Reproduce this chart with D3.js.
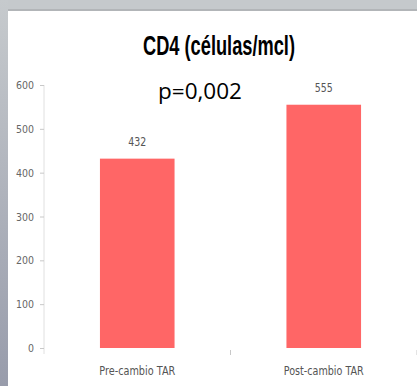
<!DOCTYPE html>
<html>
<head>
<meta charset="utf-8">
<script src="https://cdn.jsdelivr.net/npm/d3@7"></script>
<style>
  body { margin: 0; background: #ffffff; }
  svg { display: block; }
</style>
</head>
<body>
<div id="main"></div>
<script>
var categories = ["Pre-cambio TAR", "Post-cambio TAR"];
var values = [432, 555];
var yTicks = [0, 100, 200, 300, 400, 500, 600];
var title = "CD4 (células/mcl)";
var note = "p=0,002";

var ctx = {
    w: 417,
    h: 386,
    margin: { top: 85, right: 0, bottom: 38, left: 44 }
};
var narrow = "'DejaVu Sans', sans-serif";

var svg = d3.select("#main").append("svg")
    .attr("width", ctx.w)
    .attr("height", ctx.h);

// slide frame: grey strips on top and left
var grad = svg.append("defs").append("linearGradient")
    .attr("id", "leftgrad")
    .attr("x1", 0).attr("y1", 0).attr("x2", 0).attr("y2", 1);
grad.append("stop").attr("offset", "0%").attr("stop-color", "#c6cacd");
grad.append("stop").attr("offset", "100%").attr("stop-color", "#989cab");

svg.append("rect").attr("x", 0).attr("y", 0).attr("width", ctx.w).attr("height", ctx.h).attr("fill", "#ffffff");
svg.append("rect").attr("x", 0).attr("y", 0).attr("width", ctx.w).attr("height", 10).attr("fill", "#c5c9cc");
svg.append("rect").attr("x", 8).attr("y", 9).attr("width", ctx.w - 8).attr("height", 2).attr("fill", "#b2b5b8");
svg.append("rect").attr("x", 0).attr("y", 0).attr("width", 8).attr("height", ctx.h).attr("fill", "url(#leftgrad)");

var height = 348 - ctx.margin.top;

var g = svg.append("g")
    .attr("transform", "translate(" + ctx.margin.left + "," + ctx.margin.top + ")");

var x = d3.scaleBand()
    .domain(categories)
    .range([0, 373])
    .paddingInner(0.6)
    .paddingOuter(0.3);

var y = d3.scaleLinear()
    .domain([0, 600])
    .range([height, 0]);

// y axis
var yAxis = g.append("g")
    .call(d3.axisLeft(y).tickValues(yTicks).tickSize(4).tickPadding(6));
yAxis.select(".domain").attr("stroke", "#e0e0e0").attr("d", "M0," + y(600) + "V" + (height + 6));
yAxis.selectAll(".tick line").attr("stroke", "#c8c8c8");
yAxis.selectAll("text")
    .attr("fill", "#666666")
    .attr("textLength", function (d) { return d === 0 ? 6 : 18; })
    .attr("lengthAdjust", "spacingAndGlyphs")
    .style("font-family", narrow)
    .style("font-size", "11px");

// category separators under the plot (no baseline)
g.append("g").selectAll("line")
    .data(categories)
    .enter().append("line")
    .attr("x1", function (d) { return x(d) + x.bandwidth() / 2 + x.step() / 2; })
    .attr("x2", function (d) { return x(d) + x.bandwidth() / 2 + x.step() / 2; })
    .attr("y1", height + 2)
    .attr("y2", height + 7)
    .attr("stroke", "#c8c8c8");

g.append("g").selectAll("text")
    .data(categories)
    .enter().append("text")
    .attr("x", function (d) { return x(d) + x.bandwidth() / 2; })
    .attr("y", height + 27)
    .attr("text-anchor", "middle")
    .attr("fill", "#555555")
    .attr("textLength", function (d, i) { return i === 0 ? 76 : 80; })
    .attr("lengthAdjust", "spacingAndGlyphs")
    .style("font-family", narrow)
    .style("font-size", "12px")
    .text(function (d) { return d; });

// bars
g.append("g").selectAll("rect")
    .data(values)
    .enter().append("rect")
    .attr("x", function (d, i) { return x(categories[i]); })
    .attr("y", function (d) { return y(d); })
    .attr("width", x.bandwidth())
    .attr("height", function (d) { return height - y(d); })
    .attr("fill", "#ff6666");

// value labels
g.append("g").selectAll("text")
    .data(values)
    .enter().append("text")
    .attr("x", function (d, i) { return x(categories[i]) + x.bandwidth() / 2; })
    .attr("y", function (d) { return y(d) - 13; })
    .attr("text-anchor", "middle")
    .attr("fill", "#555555")
    .attr("textLength", 18)
    .attr("lengthAdjust", "spacingAndGlyphs")
    .style("font-family", narrow)
    .style("font-size", "12px")
    .text(function (d) { return d; });

// title and p value
svg.append("text")
    .attr("x", 219)
    .attr("y", 55)
    .attr("text-anchor", "middle")
    .attr("fill", "#000000")
    .attr("textLength", 152)
    .attr("lengthAdjust", "spacingAndGlyphs")
    .style("font-family", "'Liberation Sans', sans-serif")
    .style("font-weight", "bold")
    .style("font-size", "28px")
    .text(title);

svg.append("text")
    .attr("x", 200)
    .attr("y", 99)
    .attr("text-anchor", "middle")
    .attr("fill", "#000000")
    .attr("textLength", 84)
    .attr("lengthAdjust", "spacingAndGlyphs")
    .style("font-family", "'Open Sans', 'DejaVu Sans', sans-serif")
    .style("font-size", "22px")
    .text(note);
</script>
</body>
</html>
